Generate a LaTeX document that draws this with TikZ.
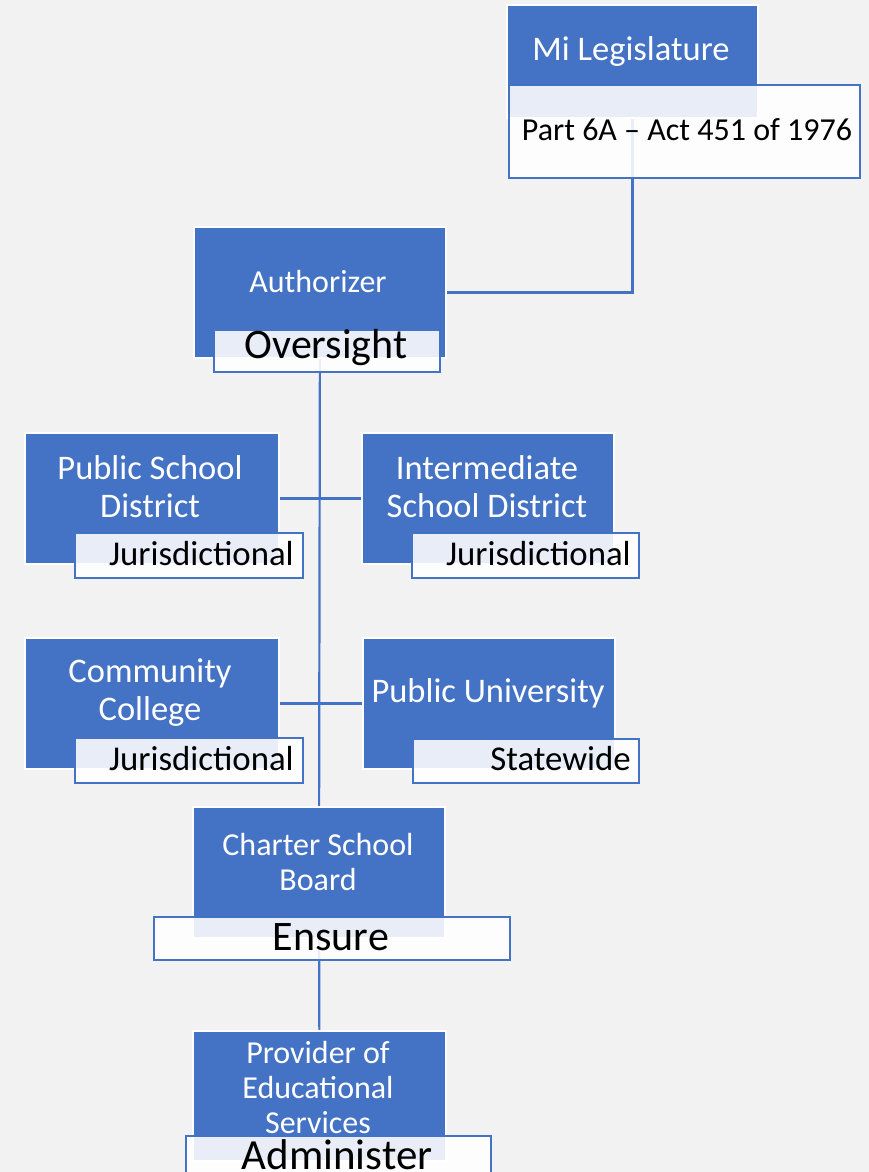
\documentclass[tikz,border=0pt]{standalone}
\usepackage{fontspec}
\setmainfont{Carlito}
\definecolor{blueA}{HTML}{4472C4}
\definecolor{bgA}{HTML}{F2F2F2}
\begin{document}
\begin{tikzpicture}[x=1pt,y=-1pt,
  bluebox/.style={draw=white,line width=2pt,fill=blueA,inner sep=0pt,anchor=north west},
  lblbox/.style={draw=blueA,line width=2pt,fill=white,fill opacity=0.88,inner sep=0pt,anchor=north west},
  conn/.style={draw=blueA,line width=2.2pt},
  wtxt/.style={text=white,font=\fontsize{34.5}{38}\selectfont,align=center,inner sep=0pt},
  wmid/.style={text=white,font=\fontsize{32}{38}\selectfont,align=center,inner sep=0pt},
  wsmall/.style={text=white,font=\fontsize{32}{35}\selectfont,align=center,inner sep=0pt},
  btxt/.style={text=black,font=\fontsize{34.8}{40}\selectfont,inner sep=0pt},
  bpart/.style={text=black,font=\fontsize{32}{38}\selectfont,inner sep=0pt},
  bbig/.style={text=black,font=\fontsize{42}{48}\selectfont,inner sep=0pt}]
\fill[bgA] (0,0) rectangle (869,1172);
\useasboundingbox (0,0) rectangle (869,1172);
\clip (0,0) rectangle (869,1172);

% boxes (positions only, drawn after connectors)
\path
  node[bluebox,minimum width=249pt,minimum height=111pt] (leg) at (507,5) {}
  node[bluebox,minimum width=250pt,minimum height=129pt] (auth) at (194,227) {}
  node[bluebox,minimum width=252pt,minimum height=129pt] (psd) at (25,433) {}
  node[bluebox,minimum width=250pt,minimum height=129pt] (isd) at (362,433) {}
  node[bluebox,minimum width=252pt,minimum height=129pt] (cc) at (25,638) {}
  node[bluebox,minimum width=250pt,minimum height=129pt] (pu) at (363,638) {}
  node[bluebox,minimum width=250pt,minimum height=129pt] (csb) at (193,807) {}
  node[bluebox,minimum width=251pt,minimum height=128pt] (pes) at (193,1031) {};

% connectors
\draw[conn] (leg.center) |- (auth.east);
\draw[conn] (auth.center) -- (csb.center);
\draw[conn] (psd.east) -- (isd.west);
\draw[conn] (cc.east) -- (pu.west);
\draw[conn] (csb.center) -- (pes.center);

% redraw blue boxes on top of connectors
\foreach \n in {leg,auth,psd,isd,cc,pu,csb,pes}{
  \fill[blueA] (\n.north west) rectangle (\n.south east);
  \draw[white,line width=2pt] (\n.north west) rectangle (\n.south east);
}

% label boxes
\node[lblbox,minimum width=351pt,minimum height=93pt] (legL) at (508,84) {};
\node[lblbox,minimum width=226pt,minimum height=42pt] (authL) at (213,329) {};
\node[lblbox,minimum width=228pt,minimum height=45pt] (psdL) at (74,532) {};
\node[lblbox,minimum width=227pt,minimum height=45pt] (isdL) at (411,532) {};
\node[lblbox,minimum width=228pt,minimum height=45pt] (ccL) at (74,737) {};
\node[lblbox,minimum width=226pt,minimum height=44pt] (puL) at (412,738) {};
\node[lblbox,minimum width=356pt,minimum height=43pt] (csbL) at (153,916) {};
\node[lblbox,minimum width=305pt,minimum height=60pt] (pesL) at (185,1135) {};

% texts
\node[wtxt] (legT) at (631,51) {Mi Legislature};
\node[bpart] (legLT) at (687,130) {Part 6A -- Act 451 of 1976};
\node[wmid] (authT) at (318,282) {Authorizer};
\node[bbig] (authLT) at (326,348) {Oversight};
\node[wtxt] (psdT) at (150,487) {Public School\\District};
\node[btxt,anchor=east] (psdLT) at (294,554) {Jurisdictional};
\node[wtxt] (isdT) at (487,487) {Intermediate\\School District};
\node[btxt,anchor=east] (isdLT) at (631,554) {Jurisdictional};
\node[wtxt] (ccT) at (150,693) {Community\\College};
\node[btxt,anchor=east] (ccLT) at (294,759) {Jurisdictional};
\node[wtxt] (puT) at (488,693) {Public University};
\node[btxt,anchor=east] (puLT) at (631,759) {Statewide};
\node[wsmall] (csbT) at (318,862) {Charter School\\Board};
\node[bbig] (csbLT) at (331,937) {Ensure};
\node[wsmall] (pesT) at (318,1087) {Provider of\\Educational\\Services};
\node[bbig,anchor=base,font=\fontsize{43}{48}\selectfont] (pesLT) at (337,1169) {Administer};
\end{tikzpicture}
\end{document}
